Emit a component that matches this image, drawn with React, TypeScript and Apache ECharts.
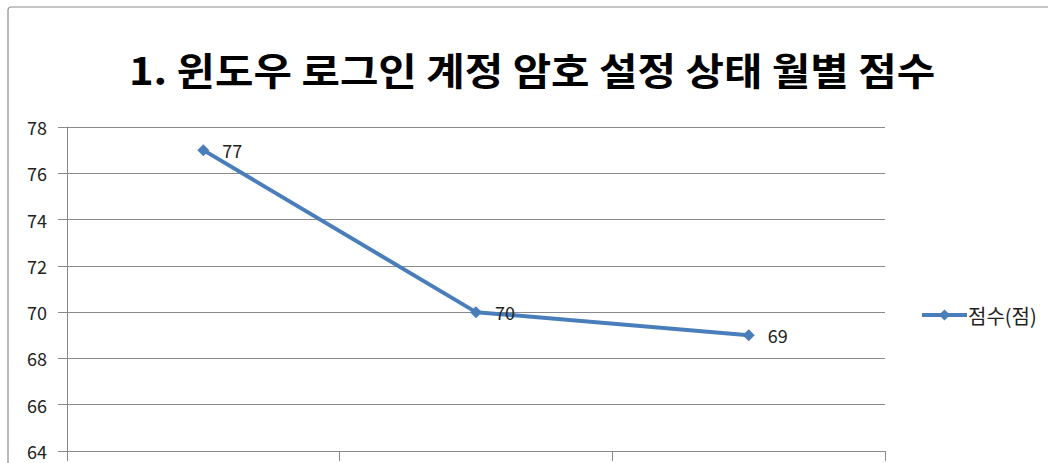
import React, { useEffect, useRef } from "react";
import * as echarts from "echarts";

const titleText = "1. 윈도우 로그인 계정 암호 설정 상태 월별 점수";
const categories = ["1월", "2월", "3월"];
const seriesName = "점수(점)";
const scores = [77, 70, 69];
const yMin = 64;
const yMax = 78;
const yInterval = 2;

const FONT = "'Noto Sans CJK KR', 'Noto Sans', sans-serif";

export default function App() {
  const ref = useRef<HTMLDivElement>(null);
  useEffect(() => {
    document.body.style.margin = "0";
    if (!ref.current) return;
    const chart = echarts.init(ref.current, undefined, { renderer: "svg" });
    chart.setOption({
      animation: false,
      backgroundColor: "#ffffff",
      graphic: [
        {
          type: "rect",
          shape: { x: 8, y: 7, width: 1060, height: 480, r: 3 },
          style: { fill: "none", stroke: "#8c8c8c", lineWidth: 1.2 },
          silent: true,
          z: -1,
        },
        {
          type: "text",
          x: 532,
          y: 69,
          scaleX: 1.1,
          silent: true,
          style: {
            text: titleText,
            fontFamily: FONT,
            fontSize: 38,
            fontWeight: "bold",
            fill: "#000000",
            align: "center",
            verticalAlign: "middle",
            textAlign: "center",
            textVerticalAlign: "middle",
          },
        },
      ],
      legend: {
        data: [seriesName],
        left: 915,
        top: 300,
        itemWidth: 45,
        itemHeight: 14,
        lineStyle: { width: 4 },
        textStyle: { fontFamily: FONT, fontSize: 20, color: "#222222", padding: [0, 0, 0, -4] },
      },
      grid: { left: 67, right: 163, top: 127, bottom: 12, containLabel: false },
      xAxis: {
        type: "category",
        data: categories,
        boundaryGap: true,
        axisLine: { show: true, lineStyle: { color: "#8a8a8a", width: 1 } },
        axisTick: { show: true, length: 10, lineStyle: { color: "#8a8a8a" } },
        axisLabel: { show: false },
        splitLine: { show: false },
      },
      yAxis: {
        type: "value",
        min: yMin,
        max: yMax,
        interval: yInterval,
        axisLine: { show: true, lineStyle: { color: "#8a8a8a", width: 1 } },
        axisTick: { show: true, length: 9, lineStyle: { color: "#8a8a8a" } },
        axisLabel: {
          fontFamily: FONT,
          fontSize: 18,
          color: "#222222",
          margin: 20,
        },
        splitLine: { show: true, lineStyle: { color: "#8a8a8a", width: 1 } },
      },
      series: [
        {
          name: seriesName,
          type: "line",
          data: scores,
          symbol: "diamond",
          symbolSize: 12,
          itemStyle: { color: "#4a7ebb" },
          lineStyle: { color: "#4a7ebb", width: 4 },
          label: {
            show: true,
            position: "right",
            distance: 13,
            fontFamily: FONT,
            fontSize: 18,
            color: "#222222",
          },
        },
      ],
    });
    return () => chart.dispose();
  }, []);
  return <div ref={ref} style={{ width: 1048, height: 463 }} />;
}
